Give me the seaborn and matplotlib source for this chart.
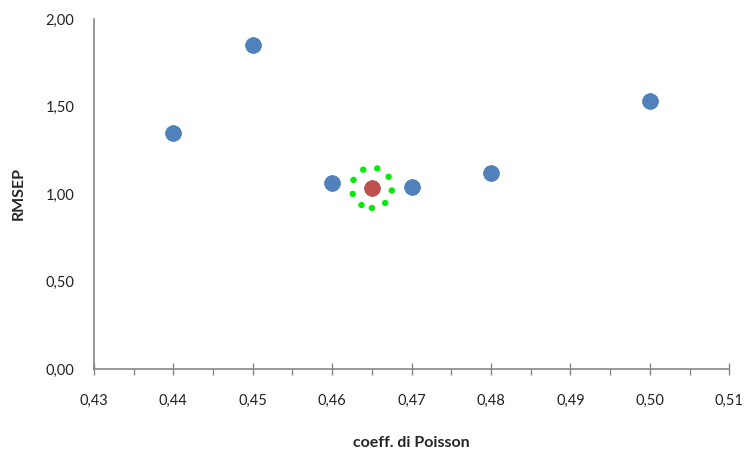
import matplotlib
matplotlib.use("Agg")
import matplotlib.pyplot as plt
import matplotlib.ticker as mticker
import seaborn as sns
import pandas as pd

poisson = [0.44, 0.45, 0.46, 0.47, 0.48, 0.50]
rmsep = [1.35, 1.85, 1.06, 1.04, 1.12, 1.53]
best_poisson = [0.465]
best_rmsep = [1.035]

df = pd.DataFrame({"poisson": poisson, "rmsep": rmsep})
best_df = pd.DataFrame({"poisson": best_poisson, "rmsep": best_rmsep})

sns.set_style("white")
plt.rcParams["font.family"] = ["Lato", "DejaVu Sans"]

fig = plt.figure(figsize=(7.45, 4.51), dpi=100)
ax = fig.add_axes([0.126, 0.182, 0.853, 0.776])

sns.scatterplot(data=df, x="poisson", y="rmsep", ax=ax, s=130,
                color="#4F81BD", edgecolor="#4A7AB3", linewidth=0.5, zorder=3)
sns.scatterplot(data=best_df, x="poisson", y="rmsep", ax=ax, s=130,
                color="#C0504D", edgecolor="#B84A47", linewidth=0.5, zorder=3)
# dotted green ring around the best point
ring = ax.scatter(best_df["poisson"], best_df["rmsep"], s=840, facecolors="none",
                  edgecolors="#00EE00", linewidths=4.6, linestyles=(0, (0.01, 2.25)), zorder=2)
ring.set_capstyle("round")

ax.set_xlim(0.43, 0.51)
ax.set_ylim(0, 2)
ax.xaxis.set_major_locator(mticker.MultipleLocator(0.01))
ax.xaxis.set_minor_locator(mticker.MultipleLocator(0.005))
ax.yaxis.set_major_locator(mticker.MultipleLocator(0.5))
ax.xaxis.set_major_formatter(mticker.FuncFormatter(lambda v, p: f"{v:.2f}".replace(".", ",")))
ax.yaxis.set_major_formatter(mticker.FuncFormatter(lambda v, p: f"{v:.2f}".replace(".", ",")))

for side in ["top", "right"]:
    ax.spines[side].set_visible(False)
for side in ["left", "bottom"]:
    ax.spines[side].set_color("#868686")
    ax.spines[side].set_linewidth(1.2)

ax.tick_params(axis="x", which="major", direction="inout", length=8, width=1, color="#868686",
               pad=14, labelsize=10.5, labelcolor="#222222", bottom=True)
ax.tick_params(axis="x", which="minor", direction="out", length=4, width=1, color="#868686", bottom=True)
ax.tick_params(axis="y", which="both", length=0, pad=14, labelsize=10.5, labelcolor="#222222")

ax.set_xlabel("coeff. di Poisson", fontsize=11.5, fontweight="bold", labelpad=20)
ax.set_ylabel("RMSEP", fontsize=11.5, fontweight="bold", labelpad=14)

fig.savefig("out.png", dpi=100)
